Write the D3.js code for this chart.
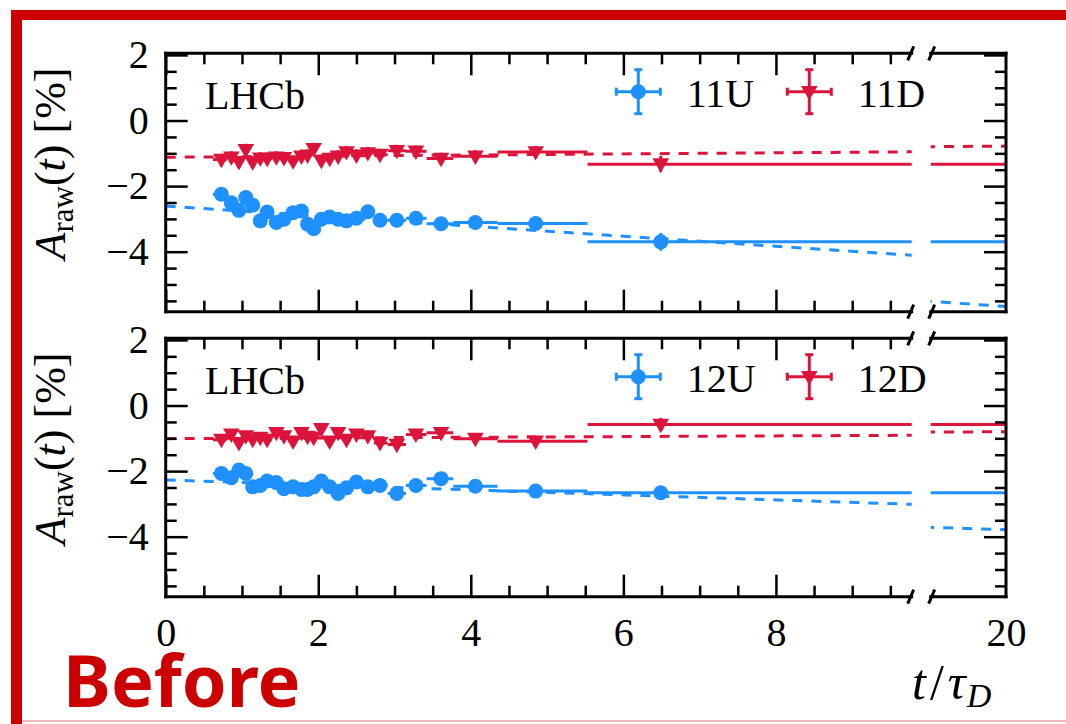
<!DOCTYPE html>
<html>
<head>
<meta charset="utf-8">
<script src="https://cdn.jsdelivr.net/npm/d3@7"></script>
<style>
body{margin:0;background:#fff;}
svg text{font-family:"Liberation Serif",serif;fill:#000;}
</style>
</head>
<body>
<script>
// decay time bins (t/tau_D), same binning for all four samples
var tCenters = [0.73,0.86,0.96,1.05,1.14,1.24,1.33,1.45,1.55,1.67,1.78,1.86,1.94,2.04,2.15,2.26,2.37,2.50,2.65,2.81,3.03,3.28,3.61,4.06,4.85,6.49];
var binEdges = [0.62,0.80,0.91,1.00,1.10,1.19,1.29,1.39,1.50,1.61,1.72,1.82,1.90,1.99,2.09,2.20,2.31,2.43,2.57,2.73,2.91,3.15,3.42,3.77,4.35,5.53,25];

// raw asymmetry in %
var a11U = [-2.25,-2.51,-2.74,-2.35,-2.58,-3.06,-2.79,-3.11,-3.01,-2.81,-2.76,-3.16,-3.30,-3.01,-2.94,-3.01,-3.06,-2.98,-2.78,-3.04,-3.04,-2.98,-3.15,-3.11,-3.14,-3.70];
var e11U = [0.18,0.18,0.18,0.18,0.18,0.18,0.18,0.18,0.18,0.18,0.18,0.18,0.18,0.18,0.18,0.18,0.18,0.18,0.18,0.18,0.18,0.18,0.18,0.18,0.18,0.27];
var a11D = [-1.19,-1.12,-1.26,-0.89,-1.27,-1.15,-1.16,-1.12,-1.14,-1.24,-1.09,-1.06,-0.86,-1.22,-1.16,-1.09,-0.96,-1.06,-0.99,-1.04,-0.92,-0.94,-1.16,-1.09,-0.96,-1.33];
var e11D = [0.18,0.18,0.18,0.18,0.18,0.18,0.18,0.18,0.18,0.18,0.18,0.18,0.18,0.18,0.18,0.18,0.18,0.18,0.18,0.18,0.18,0.18,0.18,0.18,0.18,0.25];
var a12U = [-2.07,-2.20,-1.97,-2.07,-2.48,-2.44,-2.30,-2.35,-2.54,-2.48,-2.56,-2.56,-2.48,-2.30,-2.48,-2.68,-2.51,-2.33,-2.48,-2.44,-2.68,-2.44,-2.23,-2.46,-2.61,-2.66];
var e12U = [0.15,0.15,0.15,0.15,0.15,0.15,0.15,0.15,0.15,0.15,0.15,0.15,0.15,0.15,0.15,0.15,0.15,0.15,0.15,0.15,0.15,0.15,0.15,0.15,0.15,0.2];
var a12D = [-1.04,-0.88,-1.14,-0.93,-1.04,-0.98,-1.04,-0.83,-0.93,-1.09,-0.83,-0.95,-0.98,-0.71,-1.09,-0.83,-1.04,-0.88,-0.93,-1.14,-1.19,-0.88,-0.83,-1.01,-1.09,-0.58];
var e12D = [0.15,0.15,0.15,0.15,0.15,0.15,0.15,0.15,0.15,0.15,0.15,0.15,0.15,0.15,0.15,0.15,0.15,0.15,0.15,0.15,0.15,0.15,0.15,0.15,0.15,0.2];

// fitted linear time dependence, [t, A] at both ends
var fit11U = [[0,-2.61],[20,-5.67]];
var fit11D = [[0,-1.12],[20,-0.78]];
var fit12U = [[0,-2.27],[20,-3.79]];
var fit12D = [[0,-1.01],[20,-0.80]];

var xMajor = [0,2,4,6,8];
var xMinor = [0.5,1,1.5,2.5,3,3.5,4.5,5,5.5,6.5,7,7.5,8.5,9,9.5];
var xRightLabels = [20];
var yMajor = [-4,-2,0,2];
var yMinor = [-5.5,-5,-4.5,-3.5,-3,-2.5,-1.5,-1,-0.5,0.5,1,1.5];

var width = 1066, height = 724;
var blue = "#1e90ff", red = "#dc143c";

var svg = d3.select("body").append("svg")//canvas
    .attr("width", width).attr("height", height);
var defs = svg.append("defs");

// red slide frame
svg.append("rect").attr("x",11).attr("y",10).attr("width",width-11).attr("height",10).attr("fill","#cc0000");
svg.append("rect").attr("x",11).attr("y",10).attr("width",11).attr("height",height-10).attr("fill","#cc0000");
svg.append("line").attr("x1",22).attr("x2",width).attr("y1",721).attr("y2",721)
    .attr("stroke","#e8a3a3").attr("stroke-width",1.5);

// broken x axis: two sections
var xLeft = d3.scaleLinear().domain([0,9.78]).range([165.7,911.7]);
var xRight = d3.scaleLinear().domain([19,20]).range([930.7,1006]);

makePanel(53.3, 311.7, [
    {vals:a11U, errs:e11U, fit:fit11U, color:blue, mark:"circle", name:"11U"},
    {vals:a11D, errs:e11D, fit:fit11D, color:red, mark:"tri", name:"11D"}], false, "p1");
makePanel(338.3, 596.7, [
    {vals:a12U, errs:e12U, fit:fit12U, color:blue, mark:"circle", name:"12U"},
    {vals:a12D, errs:e12D, fit:fit12D, color:red, mark:"tri", name:"12D"}], true, "p2");

// x axis title
var xl = svg.append("text").attr("x",912).attr("y",699).attr("font-size",50);
xl.append("tspan").attr("font-style","italic").text("t");
xl.append("tspan").attr("dx",4).text("/");
xl.append("tspan").attr("dx",4).attr("font-style","italic").text("τ");
xl.append("tspan").attr("dx",1).attr("font-style","italic").attr("font-size",34).attr("dy",8).text("D");

// slide tag
svg.append("text").attr("x",63).attr("y",707)
    .style("font-family","'Noto Sans',sans-serif").style("font-weight","bold")
    .attr("font-size",72).style("fill","#cc0000").text("Before");

function drawMarker(sel, mark, color, x, y){//circle or down triangle
    if(mark == "circle"){
        sel.append("circle").attr("cx",x).attr("cy",y).attr("r",7.5).attr("fill",color);
    } else {
        sel.append("path").attr("d", d3.symbol(d3.symbolTriangle, 120)())
            .attr("transform","translate("+x+","+(y-1)+") rotate(180)").attr("fill",color);
    }
}

function makePanel(top, bottom, series, showX, id){
    var y = d3.scaleLinear().domain([-5.83,2.05]).range([bottom, top]);
    var g = svg.append("g");
    var sections = [{sc:xLeft, cid:id+"L"}, {sc:xRight, cid:id+"R"}];

    for(var s=0; s<sections.length; s++){//data in each section, clipped
        var sc = sections[s].sc;
        var r = sc.range();
        defs.append("clipPath").attr("id", sections[s].cid).append("rect")
            .attr("x", r[0]).attr("y", top).attr("width", r[1]-r[0]).attr("height", bottom-top);
        var gs = g.append("g").attr("clip-path","url(#"+sections[s].cid+")");

        series.forEach(function(d){//dashed fit lines first
            gs.append("line")
                .attr("x1", sc(d.fit[0][0])).attr("y1", y(d.fit[0][1]))
                .attr("x2", sc(d.fit[1][0])).attr("y2", y(d.fit[1][1]))
                .attr("stroke", d.color).attr("stroke-width",3).attr("stroke-dasharray","10,9");
        });
        series.forEach(function(d){//error bars + markers
            for(var i=0; i<tCenters.length; i++){
                gs.append("line")
                    .attr("x1", sc(binEdges[i])).attr("x2", sc(binEdges[i+1]))
                    .attr("y1", y(d.vals[i])).attr("y2", y(d.vals[i]))
                    .attr("stroke", d.color).attr("stroke-width",3);
                gs.append("line")
                    .attr("x1", sc(tCenters[i])).attr("x2", sc(tCenters[i]))
                    .attr("y1", y(d.vals[i]-d.errs[i])).attr("y2", y(d.vals[i]+d.errs[i]))
                    .attr("stroke", d.color).attr("stroke-width",3);
                drawMarker(gs, d.mark, d.color, sc(tCenters[i]), y(d.vals[i]));
            }
        });
    }

    // ticks (inward)
    function tickStyle(a){
        a.select(".domain").remove();
        a.selectAll(".tick line").attr("stroke","#000").attr("stroke-width",2.5);
        a.selectAll("text").attr("font-size",40).attr("font-family","'Liberation Serif',serif");
    }
    g.append("g").attr("transform","translate(165.7,0)")
        .call(d3.axisLeft(y).tickValues(yMajor).tickSize(-22).tickPadding(17)).call(tickStyle);
    g.append("g").attr("transform","translate(165.7,0)")
        .call(d3.axisLeft(y).tickValues(yMinor).tickSize(-11).tickFormat("")).call(tickStyle);
    g.append("g").attr("transform","translate(1006,0)")
        .call(d3.axisRight(y).tickValues(yMajor).tickSize(-22).tickFormat("")).call(tickStyle);
    g.append("g").attr("transform","translate(1006,0)")
        .call(d3.axisRight(y).tickValues(yMinor).tickSize(-11).tickFormat("")).call(tickStyle);
    g.append("g").attr("transform","translate(0,"+top+")")
        .call(d3.axisTop(xLeft).tickValues(xMajor).tickSize(-22).tickFormat("")).call(tickStyle);
    g.append("g").attr("transform","translate(0,"+top+")")
        .call(d3.axisTop(xLeft).tickValues(xMinor).tickSize(-11).tickFormat("")).call(tickStyle);
    var bx = d3.axisBottom(xLeft).tickValues(xMajor).tickSize(-22).tickPadding(21).tickFormat(d3.format("d"));
    if(!showX) bx.tickFormat("");
    g.append("g").attr("transform","translate(0,"+bottom+")").call(bx).call(tickStyle);
    g.append("g").attr("transform","translate(0,"+bottom+")")
        .call(d3.axisBottom(xLeft).tickValues(xMinor).tickSize(-11).tickFormat("")).call(tickStyle);
    if(showX){
        g.append("g").attr("transform","translate(0,"+bottom+")")
            .call(d3.axisBottom(xRight).tickValues(xRightLabels).tickSize(0).tickPadding(21).tickFormat(d3.format("d")))
            .call(tickStyle);
    }

    // spines
    var L = xLeft.range(), R = xRight.range();
    var spines = [[L[0],top,L[0],bottom],[L[0],top,L[1],top],[L[0],bottom,L[1],bottom],
                  [R[0],top,R[1],top],[R[0],bottom,R[1],bottom],[R[1],top,R[1],bottom]];
    spines.forEach(function(p){
        g.append("line").attr("x1",p[0]).attr("y1",p[1]).attr("x2",p[2]).attr("y2",p[3])
            .attr("stroke","#000").attr("stroke-width",3).attr("stroke-linecap","square");
    });
    // break marks
    [L[1]-1, R[0]+1].forEach(function(bxp){
        [top, bottom].forEach(function(byp){
            g.append("line").attr("x1",bxp-3).attr("y1",byp+7).attr("x2",bxp+3).attr("y2",byp-7)
                .attr("stroke","#000").attr("stroke-width",3);
        });
    });

    // experiment label
    g.append("text").attr("x",205).attr("y",top+55.7).attr("font-size",40).text("LHCb");

    // legend
    var lx = [638.3, 809.3];
    for(var k=0; k<series.length; k++){
        var d = series[k], cy = top+38.4, cx = lx[k];
        var lg = g.append("g").attr("stroke",d.color).attr("stroke-width",3);
        lg.append("line").attr("x1",cx-22).attr("x2",cx+22).attr("y1",cy).attr("y2",cy);
        lg.append("line").attr("x1",cx).attr("x2",cx).attr("y1",cy-22).attr("y2",cy+22);
        lg.append("line").attr("x1",cx-22).attr("x2",cx-22).attr("y1",cy-4).attr("y2",cy+4);
        lg.append("line").attr("x1",cx+22).attr("x2",cx+22).attr("y1",cy-4).attr("y2",cy+4);
        lg.append("line").attr("x1",cx-4).attr("x2",cx+4).attr("y1",cy-22).attr("y2",cy-22);
        lg.append("line").attr("x1",cx-4).attr("x2",cx+4).attr("y1",cy+22).attr("y2",cy+22);
        drawMarker(g, d.mark, d.color, cx, cy);
        g.append("text").attr("x",cx+48.4).attr("y",top+53.4).attr("font-size",40).text(d.name);
    }

    // y axis title
    var yl = g.append("text").attr("transform","translate(65,"+(top+110.2)+") rotate(-90)")
        .attr("text-anchor","middle").attr("font-size",44);
    yl.append("tspan").attr("font-style","italic").text("A");
    yl.append("tspan").attr("font-size",31).attr("dy",8).text("raw");
    yl.append("tspan").attr("dy",-8).text("(");
    yl.append("tspan").attr("font-style","italic").text("t");
    yl.append("tspan").text(") [%]");
}
</script>
</body>
</html>
